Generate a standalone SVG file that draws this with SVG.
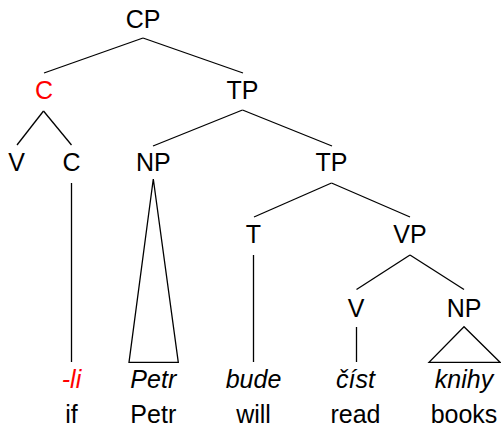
<svg xmlns="http://www.w3.org/2000/svg" width="501" height="427" viewBox="0 0 501 427">
<style>
text{font-family:"Liberation Sans",Arial,sans-serif;font-size:25px;text-anchor:middle;fill:#000}
.it{font-style:italic}
.red{fill:#ff0000}
#edges line,#edges polygon{stroke:#000;stroke-width:1.3;fill:none}
</style>
<rect width="501" height="427" fill="#fff"/>
<g id="edges">
<line x1="143" y1="38" x2="44" y2="73"/>
<line x1="143" y1="38" x2="243" y2="73"/>
<line x1="43.5" y1="111" x2="17" y2="145"/>
<line x1="43.5" y1="111" x2="71.5" y2="145"/>
<line x1="242.5" y1="110" x2="153" y2="146"/>
<line x1="242.5" y1="110" x2="332" y2="146"/>
<line x1="331.5" y1="183" x2="254" y2="217"/>
<line x1="331.5" y1="183" x2="410" y2="217"/>
<line x1="410" y1="255" x2="356.5" y2="289.5"/>
<line x1="410" y1="255" x2="464" y2="289.5"/>
<line x1="71.5" y1="183" x2="71.5" y2="362"/>
<line x1="253.5" y1="255" x2="253.5" y2="362"/>
<line x1="356.5" y1="327" x2="356.5" y2="362"/>
<polygon points="153.3,179 129,362.3 178.3,362.3"/>
<polygon points="464,326.7 429,362.3 500,362.3"/>
</g>
<g id="n-CP"><text x="143" y="28">CP</text></g>
<g id="n-C"><text class="red" x="44" y="99">C</text></g>
<g id="n-TP"><text x="242.5" y="99">TP</text></g>
<g id="n-V1"><text x="16.5" y="171">V</text></g>
<g id="n-C2"><text x="71.5" y="171">C</text></g>
<g id="n-NP1"><text x="153.3" y="171">NP</text></g>
<g id="n-TP2"><text x="331.5" y="171">TP</text></g>
<g id="n-T"><text x="253.5" y="243">T</text></g>
<g id="n-VP"><text x="410" y="243">VP</text></g>
<g id="n-V2"><text x="356" y="317">V</text></g>
<g id="n-NP2"><text x="464" y="317">NP</text></g>
<g id="w-li"><text class="it red" x="71.5" y="388">-li</text><text x="71.5" y="422.5">if</text></g>
<g id="w-petr"><text class="it" x="153.3" y="388">Petr</text><text x="153.3" y="422.5">Petr</text></g>
<g id="w-bude"><text class="it" x="253.5" y="388">bude</text><text x="253.5" y="422.5">will</text></g>
<g id="w-cist"><text class="it" x="355.5" y="388">číst</text><text x="355.5" y="422.5">read</text></g>
<g id="w-knihy"><text class="it" x="464" y="388">knihy</text><text x="464" y="422.5">books</text></g>
</svg>
